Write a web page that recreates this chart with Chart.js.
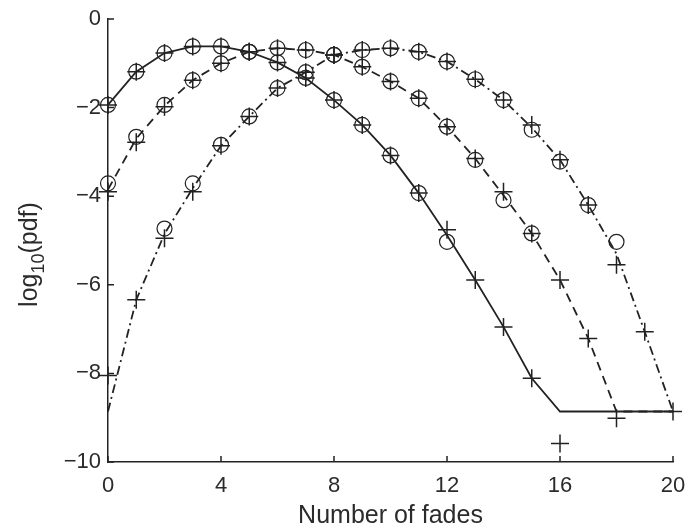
<!DOCTYPE html>
<html>
<head>
<meta charset="utf-8">
<script src="https://cdn.jsdelivr.net/npm/chart.js@4.4.1/dist/chart.umd.min.js"></script>
<style>
  html, body { margin: 0; padding: 0; background: #fff; }
  #wrap { width: 689px; height: 531px; }
</style>
</head>
<body>
<div id="wrap"><canvas id="c" width="689" height="531"></canvas></div>
<script>
// Number of fades (x axis)
const fades = [0, 1, 2, 3, 4, 5, 6, 7, 8, 9, 10, 11, 12, 13, 14, 15, 16, 17, 18, 19, 20];

// Axis ticks
const xTicks = [0, 4, 8, 12, 16, 20];
const yTicks = [0, -2, -4, -6, -8, -10];

// Series A (solid curve)
const curveA   = [-1.94, -1.19, -0.77, -0.62, -0.62, -0.74, -0.98, -1.33, -1.83, -2.39, -3.08, -3.93, -4.88, -5.89, -6.95, -8.11, -8.86, -8.86, -8.86, -8.86, -8.86];
const circlesA = [-1.94, -1.19, -0.77, -0.62, -0.62, -0.74, -0.98, -1.33, -1.83, -2.39, -3.08, -3.93, -5.03];
const plusA    = [-1.94, -1.19, -0.77, -0.62, -0.62, -0.74, -0.98, -1.33, -1.83, -2.39, -3.08, -3.93, -4.76, -5.89, -6.95, -8.11, -9.58];

// Series B (dashed curve)
const curveB   = [-3.85, -2.70, -1.96, -1.38, -1.00, -0.74, -0.66, -0.70, -0.81, -1.08, -1.41, -1.79, -2.43, -3.15, -3.98, -4.84, -5.89, -7.21, -8.86, -8.86, -8.86];
const circlesB = [-3.71, -2.66, -1.94, -1.38, -1.00, -0.74, -0.66, -0.70, -0.81, -1.08, -1.41, -1.79, -2.43, -3.18, -4.09, -4.84];
const plusB    = [-3.90, -2.78, -1.98, -1.38, -1.00, -0.74, -0.66, -0.70, -0.81, -1.08, -1.41, -1.79, -2.43, -3.15, -3.90, -4.84, -5.89, -7.21, -9.01];

// Series C (dash-dot curve)
const curveC   = [-8.86, -6.34, -4.85, -3.82, -2.86, -2.20, -1.56, -1.20, -0.81, -0.70, -0.66, -0.74, -0.96, -1.36, -1.83, -2.45, -3.18, -4.20, -5.30, -7.06, -8.86];
const circlesC = [null, null, -4.73, -3.71, -2.84, -2.20, -1.56, -1.20, -0.81, -0.70, -0.66, -0.74, -0.96, -1.36, -1.83, -2.50, -3.22, -4.20, -5.03];
const plusC    = [-8.05, -6.34, -4.95, -3.90, -2.86, -2.20, -1.56, -1.20, -0.81, -0.70, -0.66, -0.74, -0.96, -1.36, -1.83, -2.39, -3.18, -4.20, -5.55, -7.06, -8.86];

const INK = '#222222';
const TEXT = '#2b2b2b';
const FAMILY = "'Liberation Sans', Arial, Helvetica, sans-serif";
const TICK_FS = 22;
const LABEL_FS = 25;

function pts(values) {
  const out = [];
  values.forEach((v, i) => { if (v !== null && v !== undefined) out.push({ x: fades[i], y: v }); });
  return out;
}

function curve(label, values, dash) {
  return {
    label, data: pts(values), showLine: true, borderColor: INK, borderWidth: 1.8,
    borderDash: dash, pointRadius: 0, pointHoverRadius: 0, fill: false, tension: 0, clip: false
  };
}
function circles(label, values) {
  return {
    label, data: pts(values), showLine: false, pointStyle: 'circle', pointRadius: 7.5,
    pointBorderWidth: 1.2, pointBorderColor: INK, pointBackgroundColor: 'rgba(0,0,0,0)', clip: false
  };
}
function pluses(label, values) {
  return {
    label, data: pts(values), showLine: false, pointStyle: 'cross', pointRadius: 9,
    pointBorderWidth: 1.5, pointBorderColor: INK, pointBackgroundColor: INK, clip: false
  };
}

// Inward tick marks on the left and bottom axes
const inwardTicks = {
  id: 'inwardTicks',
  afterDraw(chart) {
    const { ctx, chartArea, scales } = chart;
    ctx.save();
    ctx.strokeStyle = INK;
    ctx.lineWidth = 1.5;
    ctx.beginPath();
    xTicks.forEach(v => {
      const px = scales.x.getPixelForValue(v);
      ctx.moveTo(px, chartArea.bottom);
      ctx.lineTo(px, chartArea.bottom - 6);
    });
    yTicks.forEach(v => {
      const py = scales.y.getPixelForValue(v);
      ctx.moveTo(chartArea.left, py);
      ctx.lineTo(chartArea.left + 6, py);
    });
    ctx.stroke();
    ctx.restore();
  }
};

// Rotated y-axis title with a subscript
const yTitle = {
  id: 'yTitle',
  afterDraw(chart) {
    const { ctx, chartArea } = chart;
    const cy = (chartArea.top + chartArea.bottom) / 2 + 14;
    const big = LABEL_FS + 'px ' + FAMILY;
    const small = Math.round(LABEL_FS * 0.72) + 'px ' + FAMILY;
    ctx.save();
    ctx.translate(28, cy);
    ctx.rotate(-Math.PI / 2);
    ctx.fillStyle = TEXT;
    ctx.textBaseline = 'alphabetic';
    ctx.font = big;
    const w1 = ctx.measureText('log').width;
    const w3 = ctx.measureText('(pdf)').width;
    ctx.font = small;
    const w2 = ctx.measureText('10').width;
    let x = -(w1 + w2 + w3) / 2;
    const base = LABEL_FS * 0.36;
    ctx.font = big;  ctx.fillText('log', x, base); x += w1;
    ctx.font = small; ctx.fillText('10', x, base + LABEL_FS * 0.28); x += w2;
    ctx.font = big;  ctx.fillText('(pdf)', x, base);
    ctx.restore();
  }
};

new Chart(document.getElementById('c'), {
  type: 'scatter',
  data: {
    datasets: [
      curve('A', curveA, []),
      curve('B', curveB, [9, 6]),
      curve('C', curveC, [9, 4, 2, 4]),
      circles('A sim', circlesA),
      circles('B sim', circlesB),
      circles('C sim', circlesC),
      pluses('A approx', plusA),
      pluses('B approx', plusB),
      pluses('C approx', plusC)
    ]
  },
  options: {
    responsive: false,
    animation: false,
    events: [],
    layout: { padding: { top: 19, right: 16, bottom: 0, left: 0 } },
    plugins: { legend: { display: false }, tooltip: { enabled: false } },
    scales: {
      x: {
        type: 'linear', min: 0, max: 20,
        afterBuildTicks(scale) { scale.ticks = xTicks.map(v => ({ value: v })); },
        afterFit(scale) { scale.height = 69; scale.paddingLeft = 0; scale.paddingRight = 0; },
        grid: { display: true, drawOnChartArea: false, drawTicks: false },
        border: { display: true, color: INK, width: 1.5 },
        ticks: { color: TEXT, padding: 11, font: { family: FAMILY, size: TICK_FS }, maxRotation: 0 },
        title: { display: true, text: 'Number of fades', color: TEXT, font: { family: FAMILY, size: LABEL_FS }, padding: { top: 0, bottom: 0 } }
      },
      y: {
        type: 'linear', min: -10, max: 0,
        afterBuildTicks(scale) { scale.ticks = yTicks.map(v => ({ value: v })); },
        afterFit(scale) { scale.width = 108; scale.paddingTop = 0; scale.paddingBottom = 0; },
        grid: { display: true, drawOnChartArea: false, drawTicks: false },
        border: { display: true, color: INK, width: 1.5 },
        ticks: {
          color: TEXT, padding: 7, font: { family: FAMILY, size: TICK_FS },
          callback: v => (v < 0 ? '\u2212' + Math.abs(v) : String(v))
        }
      }
    }
  },
  plugins: [inwardTicks, yTitle]
});
</script>
</body>
</html>
